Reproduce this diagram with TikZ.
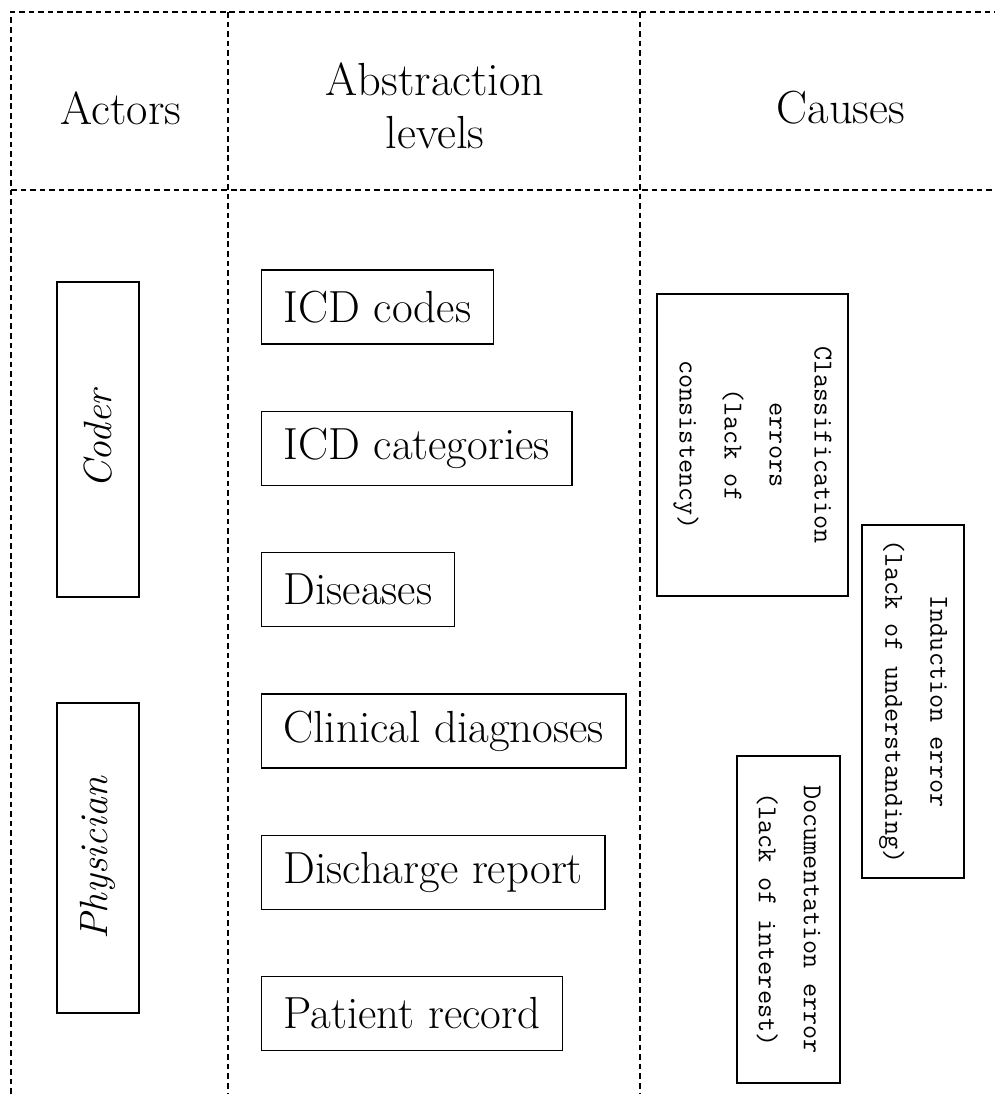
\documentclass[tikz,border=0pt]{standalone}
\usepackage{fontspec}
\usetikzlibrary{positioning}

\tikzset{
  grid/.style={dash pattern=on 4pt off 2.8pt, line width=0.75pt},
  head/.style={text centered, align=center, font=\fontsize{33}{38}\selectfont},
  actor/.style={draw, line width=0.9pt, rotate=90, minimum height=2.05cm, font=\fontsize{28}{32}\selectfont\itshape},
  level/.style={draw, line width=0.9pt, anchor=west, minimum height=1.85cm, inner xsep=0.55cm, font=\fontsize{32}{36}\selectfont},
  cause/.style={draw, line width=0.9pt, rotate=-90, align=center, font=\ttfamily\fontsize{19.5}{32}\selectfont},
}

\begin{document}
\begin{tikzpicture}[x=0.025cm, y=-0.025cm, node distance=1.65cm]
      \useasboundingbox (0,0) rectangle (995,1094);
      % grid %
      \draw[grid] (11,1094) -- (11,12) -- (995,12);
      \draw[grid] (11,190) -- (995,190);
      \draw[grid] (228,12) -- (228,1094);
      \draw[grid] (640,12) -- (640,1094);
      % header %
      \node[head] (actors) at (121,108) {Actors};
      \node[head] (abstraction) at (435,106) {Abstraction\\levels};
      \node[head] (causes) at (841,108) {Causes};
      % actors %
      \node[actor, minimum width=7.875cm] (coder) at (98,439.5) {Coder};
      \node[actor, minimum width=7.75cm] (physician) at (98,858) {Physician};
      % abstraction levels %
      \node[level] (codes) at (261,307) {ICD codes};
      \node[level, below=of codes.south west, anchor=north west] (categories) {ICD categories};
      \node[level, below=of categories.south west, anchor=north west] (diseases) {Diseases};
      \node[level, below=of diseases.south west, anchor=north west] (diagnoses) {Clinical diagnoses};
      \node[level, below=of diagnoses.south west, anchor=north west] (discharge) {Discharge report};
      \node[level, below=of discharge.south west, anchor=north west] (record) {Patient record};
      % causes %
      \node[cause, minimum width=7.55cm, minimum height=4.775cm] (classification) at (752.5,445) {Classification\\errors\\(lack of\\consistency)};
      \node[cause, minimum width=8.825cm, minimum height=2.55cm] (induction) at (913,701.5) {Induction error\\(lack of understanding)};
      \node[cause, minimum width=8.175cm, minimum height=2.575cm] (documentation) at (788.5,919.5) {Documentation error\\(lack of interest)};
    \end{tikzpicture}
\end{document}
